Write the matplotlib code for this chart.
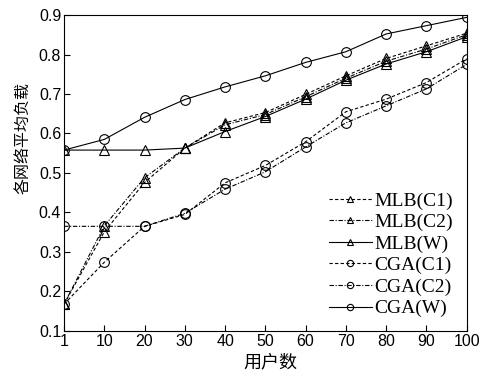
import matplotlib
matplotlib.use("Agg")
import matplotlib.pyplot as plt

x_labels = ["1", "10", "20", "30", "40", "50", "60", "70", "80", "90", "100"]
mlb_c1 = [0.168, 0.351, 0.476, 0.563, 0.627, 0.653, 0.699, 0.746, 0.790, 0.822, 0.854]
mlb_c2 = [0.168, 0.366, 0.488, 0.563, 0.622, 0.648, 0.693, 0.740, 0.783, 0.814, 0.850]
mlb_w = [0.558, 0.558, 0.558, 0.563, 0.605, 0.643, 0.687, 0.735, 0.776, 0.807, 0.845]
cga_c1 = [0.168, 0.274, 0.365, 0.395, 0.475, 0.519, 0.579, 0.655, 0.687, 0.729, 0.789]
cga_c2 = [0.365, 0.365, 0.365, 0.398, 0.459, 0.503, 0.566, 0.627, 0.670, 0.713, 0.775]
cga_w = [0.558, 0.585, 0.641, 0.686, 0.718, 0.746, 0.780, 0.807, 0.852, 0.873, 0.894]
y_ticks = [0.1, 0.2, 0.3, 0.4, 0.5, 0.6, 0.7, 0.8, 0.9]

fig = plt.figure(figsize=(4.94, 3.76), dpi=100)
ax = fig.add_axes([0.1296, 0.1197, 0.8151, 0.8404])
xs = list(range(len(x_labels)))

common = dict(color="black", linewidth=0.8, markersize=7, markerfacecolor="none",
              markeredgewidth=0.8)
ax.plot(xs, mlb_c1, linestyle=(0, (3, 2)), marker="^", label="MLB(C1)", **common)
ax.plot(xs, mlb_c2, linestyle=(0, (4, 1.5, 1, 1.5)), marker="^", label="MLB(C2)", **common)
ax.plot(xs, mlb_w, linestyle="-", marker="^", label="MLB(W)", **common)
ax.plot(xs, cga_c1, linestyle=(0, (3, 2)), marker="o", label="CGA(C1)", **common)
ax.plot(xs, cga_c2, linestyle=(0, (4, 1.5, 1, 1.5)), marker="o", label="CGA(C2)", **common)
ax.plot(xs, cga_w, linestyle="-", marker="o", label="CGA(W)", **common)

ax.set_xlim(0, len(x_labels) - 1)
ax.set_ylim(0.1, 0.9)
ax.set_xticks(xs)
ax.set_xticklabels(x_labels)
ax.set_yticks(y_ticks)
ax.set_yticklabels([f"{v:.1f}" for v in y_ticks])
ax.tick_params(direction="in", length=4, width=0.8, labelsize=11.5, top=False, right=False,
               pad=2)
for lab in ax.get_xticklabels() + ax.get_yticklabels():
    lab.set_fontfamily("Liberation Sans")
for s in ax.spines.values():
    s.set_linewidth(0.8)

ax.set_xlabel("用户数", fontsize=13, family=["Noto Sans CJK SC", "DejaVu Sans"])
ax.xaxis.set_label_coords(0.512, -0.072)
ax.set_ylabel("各网络平均负载", fontsize=11.5, family=["Noto Sans CJK SC", "DejaVu Sans"])
ax.yaxis.set_label_coords(-0.082, 0.61)

leg = ax.legend(loc="lower right", frameon=False, prop={"family": "Liberation Serif", "size": 14},
                handlelength=2.2, handletextpad=0.15, labelspacing=0.2, borderaxespad=0.3,
                markerscale=0.65)

fig.savefig("out.png", dpi=100)
